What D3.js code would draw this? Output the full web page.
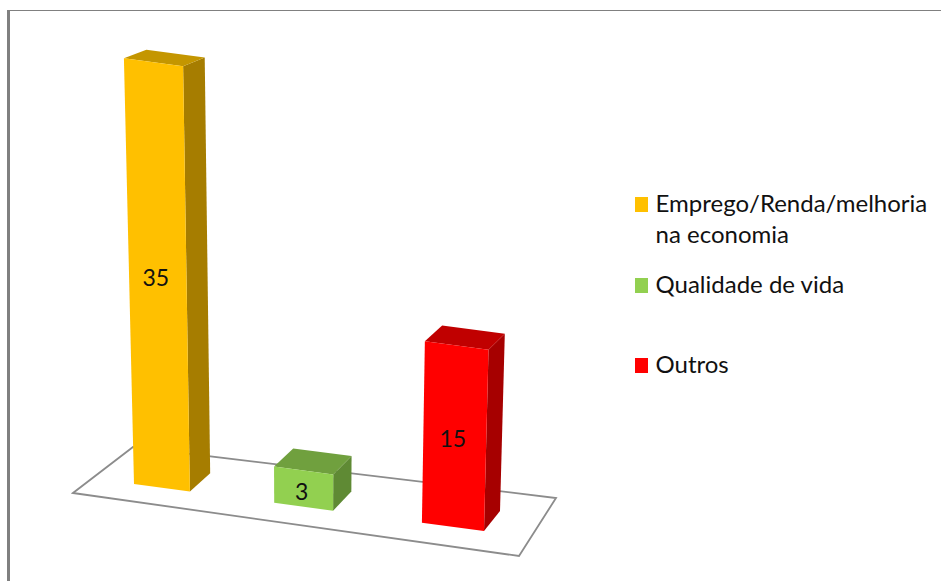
<!DOCTYPE html>
<html><head><meta charset="utf-8">
<style>html,body{margin:0;padding:0;background:#fff;overflow:hidden}svg{display:block}</style>
<script src="https://cdn.jsdelivr.net/npm/d3@7"></script>
</head><body><svg id="c" width="941" height="581"></svg>
<script>
const categories = ["Emprego/Renda/melhoria na economia", "Qualidade de vida", "Outros"];
const values = [35, 3, 15];
const frontColors = ["#FFC000", "#92D050", "#FF0000"];
const topColors = ["#C49600", "#70A03E", "#C00000"];
const sideColors = ["#A67D00", "#5F8A34", "#A60000"];
const legendLines = [["Emprego/Renda/melhoria", "na economia"], ["Qualidade de vida"], ["Outros"]];
const legendBaselines = [212, 293, 373];

const svg = d3.select("#c");
const W = 941, H = 581;

// Page frame
svg.append("path").attr("d", d3.line()([[W, 10.5], [8.5, 10.5]]))
  .attr("fill", "none").attr("stroke", "#808080").attr("stroke-width", 1);
svg.append("path").attr("d", d3.line()([[8.5, 10], [8.5, H]]))
  .attr("fill", "none").attr("stroke", "#808080").attr("stroke-width", 3);

// Perspective map from the unit square to the picture, given its four corners
function homography(A, B, C, D) {
  const det = (p, q) => p[0] * q[1] - p[1] * q[0];
  const dx1 = [B[0] - C[0], B[1] - C[1]], dx2 = [D[0] - C[0], D[1] - C[1]];
  const s = [A[0] - B[0] + C[0] - D[0], A[1] - B[1] + C[1] - D[1]];
  const g = det(s, dx2) / det(dx1, dx2), h = det(dx1, s) / det(dx1, dx2);
  return (u, v) => {
    const w = g * u + h * v + 1;
    return [((B[0] - A[0] + g * B[0]) * u + (D[0] - A[0] + h * D[0]) * v + A[0]) / w,
            ((B[1] - A[1] + g * B[1]) * u + (D[1] - A[1] + h * D[1]) * v + A[1]) / w];
  };
}
const floorCorners = [[73, 493], [519, 556], [556, 498], [133, 447]];
const plotPt = homography([134, 484], [484, 531], [500, 511], [155, 466]);
const VP = [305, 7700];

const xBand = d3.scaleBand().domain(categories).range([0, 1]).paddingInner(0.595).paddingOuter(0);
const rise = d3.scaleLinear().domain([0, 35]).range([0, 0.059]);
const backShrink = d3.scaleLinear().domain([0, 1]).range([1, 0.975]);
const lift = (p, val, v) => {
  const k = rise(val) * backShrink(v);
  return [p[0] - k * (VP[0] - p[0]), p[1] - k * (VP[1] - p[1])];
};
const poly = d3.line();

svg.append("path").attr("d", poly(floorCorners) + "Z")
  .attr("fill", "#fff").attr("stroke", "#8c8c8c").attr("stroke-width", 1.8).attr("stroke-linejoin", "miter");

const bars = svg.selectAll("g.bar").data(categories).join("g").attr("class", "bar");
bars.each(function (cat, i) {
  const u0 = xBand(cat), u1 = u0 + xBand.bandwidth(), val = values[i], el = d3.select(this);
  const fl = plotPt(u0, 0), fr = plotPt(u1, 0), br = plotPt(u1, 1), bl = plotPt(u0, 1);
  const tfl = lift(fl, val, 0), tfr = lift(fr, val, 0), tbr = lift(br, val, 1), tbl = lift(bl, val, 1);
  el.append("path").attr("d", poly([fr, br, tbr, tfr]) + "Z").attr("fill", sideColors[i]);
  el.append("path").attr("d", poly([tfl, tfr, tbr, tbl]) + "Z").attr("fill", topColors[i]);
  el.append("path").attr("d", poly([fl, fr, tfr, tfl]) + "Z").attr("fill", frontColors[i]);
  const cx = d3.mean([fl, fr, tfr, tfl], p => p[0]), cy = d3.mean([fl, fr, tfr, tfl], p => p[1]);
  el.append("text").attr("x", cx - 2).attr("y", cy + 11).attr("text-anchor", "middle")
    .attr("font-family", "Lato, 'Open Sans', sans-serif").attr("font-size", 23).attr("fill", "#111").text(val);
});

// Legend
const legend = svg.selectAll("g.leg").data(categories).join("g").attr("class", "leg");
legend.append("rect").attr("x", 635).attr("y", (d, i) => legendBaselines[i] - 15)
  .attr("width", 13).attr("height", 15).attr("fill", (d, i) => frontColors[i]);
legend.each(function (d, i) {
  legendLines[i].forEach((line, j) => {
    d3.select(this).append("text").attr("x", 655.5).attr("y", legendBaselines[i] + j * 31)
      .attr("font-family", "Lato, 'Open Sans', sans-serif").attr("font-size", 24).attr("fill", "#111").text(line);
  });
});
</script></body></html>
